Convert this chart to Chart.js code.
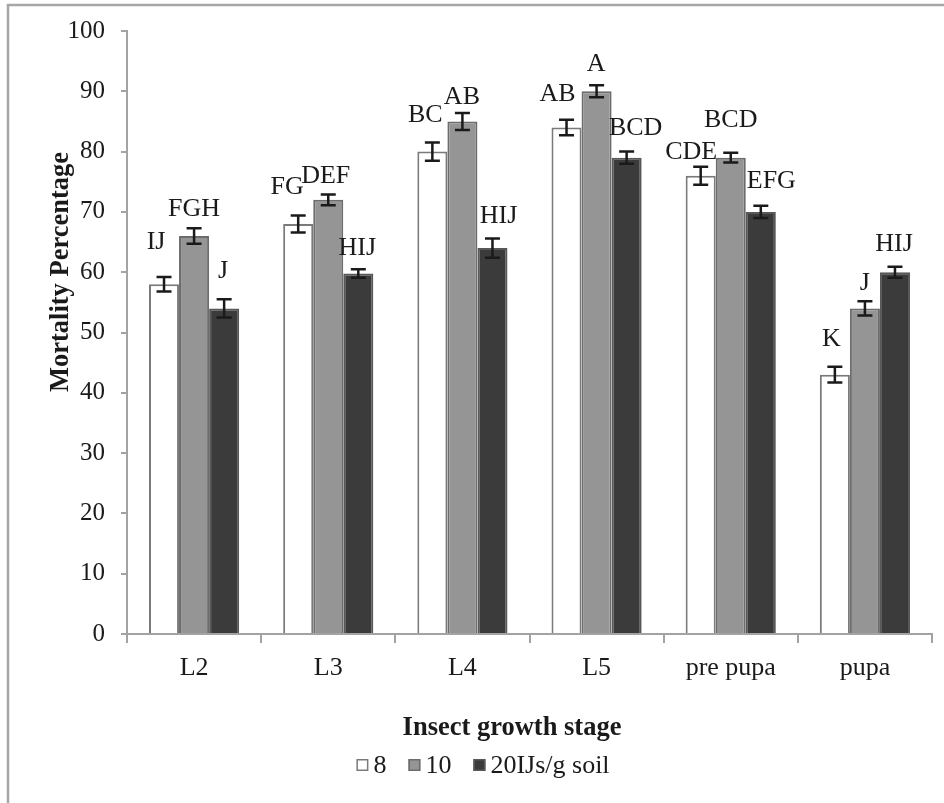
<!DOCTYPE html>
<html>
<head>
<meta charset="utf-8">
<title>Mortality Percentage by Insect growth stage</title>
<script src="https://cdn.jsdelivr.net/npm/chart.js@4/dist/chart.umd.min.js"></script>
<style>
  html, body { margin: 0; padding: 0; background: #ffffff; }
  #wrap { position: relative; width: 944px; height: 803px; }
  canvas { display: block; }
</style>
</head>
<body>
<div id="wrap"><canvas id="chart" width="944" height="803"></canvas></div>
<script>
// Growth stages on the x axis
const stages = ['L2', 'L3', 'L4', 'L5', 'pre pupa', 'pupa'];

// Legend names of the three doses
const doseNames = ['8', '10', '20IJs/g soil'];

// Mean mortality (%) per dose
const mortality8 = [58, 68, 80, 84, 76, 43];
const mortality10 = [66, 72, 85, 90, 79, 54];
const mortality20 = [54, 59.8, 64, 79, 70, 60];

// Standard errors per dose
const error8 = [1.2, 1.4, 1.5, 1.3, 1.5, 1.3];
const error10 = [1.3, 0.9, 1.4, 1.0, 0.8, 1.2];
const error20 = [1.5, 0.7, 1.6, 1.0, 1.0, 0.9];

// Significance letters per dose
const letters8 = ['IJ', 'FG', 'BC', 'AB', 'CDE', 'K'];
const letters10 = ['FGH', 'DEF', 'AB', 'A', 'BCD', 'J'];
const letters20 = ['J', 'HIJ', 'HIJ', 'BCD', 'EFG', 'HIJ'];

// Y axis ticks
const yMin = 0, yMax = 100, yStep = 10;

// Letter placement nudges (px): horizontal shift and height above the error cap
const letterShift = [
  { dx: [-8, -11, -7, -9, -9.5, -3.5], dy: [35, 28.6, 27.5, 25, 15, 28] },
  { dx: [0, -2.5, -0.5, -0.5, 0, 0], dy: [19, 18.5, 16, 20.7, 33, 17.7] },
  { dx: [-1, -1, 6, 9, 10.5, -1], dy: [28.5, 21, 22, 23, 25, 23] }
];

const SERIF = "'Liberation Serif', 'Times New Roman', serif";
const INK = '#1a1a1a';
const AXIS = '#a3a3a3';

const fills = ['#ffffff', '#959595', '#3b3b3b'];
const edges = ['#7a7a7a', '#6c6c6c', '#585858'];

const datasets = [
  { label: doseNames[0], data: mortality8, errors: error8, letters: letters8 },
  { label: doseNames[1], data: mortality10, errors: error10, letters: letters10 },
  { label: doseNames[2], data: mortality20, errors: error20, letters: letters20 }
].map((d, i) => Object.assign(d, {
  backgroundColor: fills[i],
  borderColor: edges[i],
  borderWidth: 2,
  borderSkipped: 'bottom',
  categoryPercentage: 0.672,
  barPercentage: 1.0
}));

// White page with the outer frame
const framePlugin = {
  id: 'frame',
  beforeDraw(chart) {
    const ctx = chart.ctx;
    ctx.save();
    ctx.fillStyle = '#ffffff';
    ctx.fillRect(0, 0, chart.width, chart.height);
    ctx.strokeStyle = '#a6a6a6';
    ctx.lineWidth = 2.5;
    ctx.strokeRect(8, 5, chart.width + 20, chart.height + 20);
    ctx.restore();
  }
};

// Error bars and significance letters on top of each bar
const annotatePlugin = {
  id: 'annotate',
  afterDatasetsDraw(chart) {
    const ctx = chart.ctx;
    const y = chart.scales.y;
    ctx.save();
    chart.data.datasets.forEach((ds, di) => {
      const meta = chart.getDatasetMeta(di);
      meta.data.forEach((bar, i) => {
        const v = ds.data[i];
        const e = ds.errors[i];
        const yTop = y.getPixelForValue(v + e);
        const yBot = y.getPixelForValue(v - e);
        const x = bar.x;
        ctx.strokeStyle = INK;
        ctx.lineWidth = 2.5;
        ctx.beginPath();
        ctx.moveTo(x, yTop); ctx.lineTo(x, yBot);
        ctx.moveTo(x - 7.5, yTop); ctx.lineTo(x + 7.5, yTop);
        ctx.moveTo(x - 7.5, yBot); ctx.lineTo(x + 7.5, yBot);
        ctx.stroke();

        ctx.fillStyle = INK;
        ctx.font = '26px ' + SERIF;
        ctx.textAlign = 'center';
        ctx.textBaseline = 'middle';
        const s = letterShift[di];
        ctx.fillText(ds.letters[i], x + s.dx[i], yTop - s.dy[i]);
      });
    });
    ctx.restore();
  }
};

// Axis titles and the legend row
const titlesPlugin = {
  id: 'titles',
  afterDraw(chart) {
    const ctx = chart.ctx;
    ctx.save();
    ctx.fillStyle = INK;
    ctx.font = 'bold 26.5px ' + SERIF;
    ctx.textAlign = 'center';
    ctx.textBaseline = 'middle';
    // y axis title
    ctx.save();
    ctx.translate(61, 272);
    ctx.rotate(-Math.PI / 2);
    ctx.fillText('Mortality Percentage', 0, 0);
    ctx.restore();
    // x axis title
    ctx.fillText('Insect growth stage', 512, 728);

    // legend
    ctx.font = '26px ' + SERIF;
    const box = 12, gap = 5, spacing = 22;
    const items = chart.data.datasets.map(ds => ({
      text: ds.label, fill: ds.backgroundColor, edge: ds.borderColor,
      w: ctx.measureText(ds.label).width
    }));
    const total = items.reduce((s, it) => s + box + gap + it.w, 0) + spacing * (items.length - 1);
    let x = 483 - total / 2;
    const cy = 765;
    ctx.textAlign = 'left';
    items.forEach(it => {
      ctx.fillStyle = it.fill;
      ctx.fillRect(x, cy - box / 2, box, box);
      ctx.strokeStyle = it.edge;
      ctx.lineWidth = 1.5;
      ctx.strokeRect(x + 0.75, cy - box / 2 + 0.75, box - 1.5, box - 1.5);
      ctx.fillStyle = INK;
      ctx.fillText(it.text, x + box + gap, cy + 1);
      x += box + gap + it.w + spacing;
    });
    ctx.restore();
  }
};

new Chart(document.getElementById('chart'), {
  type: 'bar',
  data: { labels: stages, datasets },
  options: {
    responsive: false,
    animation: false,
    devicePixelRatio: 1,
    layout: { padding: { top: 24, right: 12, left: 0, bottom: 0 } },
    plugins: {
      legend: { display: false },
      tooltip: { enabled: false },
      title: { display: false }
    },
    scales: {
      x: {
        type: 'category',
        offset: true,
        grid: {
          offset: true,
          drawOnChartArea: false,
          tickLength: 9,
          color: AXIS,
          lineWidth: 2
        },
        border: { color: AXIS, width: 2 },
        ticks: {
          color: INK,
          font: { family: SERIF, size: 26 },
          padding: 10,
          maxRotation: 0,
          autoSkip: false
        },
        afterFit(scale) { scale.height = 169; }
      },
      y: {
        min: yMin,
        max: yMax,
        grid: {
          drawOnChartArea: false,
          tickLength: 6,
          color: AXIS,
          lineWidth: 2
        },
        border: { color: AXIS, width: 2 },
        ticks: {
          stepSize: yStep,
          color: INK,
          font: { family: SERIF, size: 25 },
          padding: 16
        },
        afterFit(scale) { scale.width = 127; }
      }
    }
  },
  plugins: [framePlugin, annotatePlugin, titlesPlugin]
});
</script>
</body>
</html>
